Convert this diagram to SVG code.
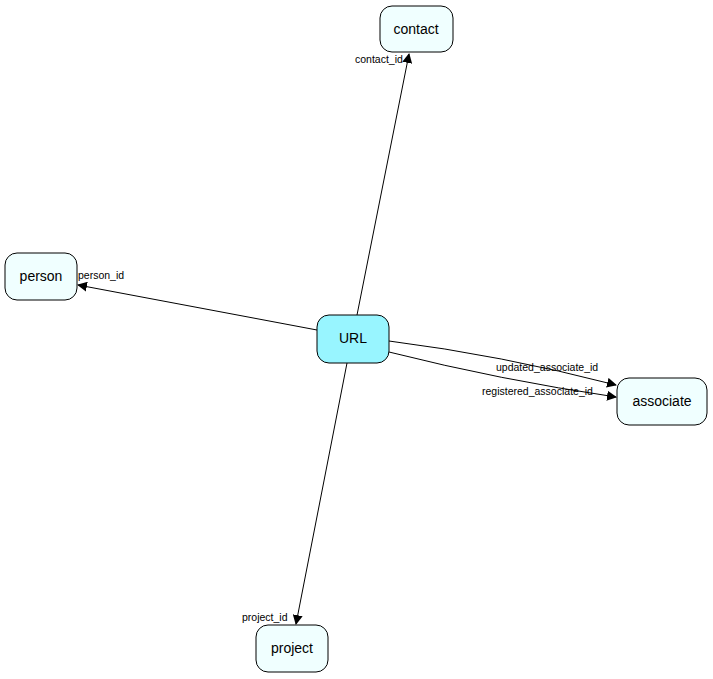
<svg xmlns="http://www.w3.org/2000/svg" width="713" height="679" viewBox="0 0 713 679">
<style>
.n rect{fill:#f0ffff;stroke:#000;stroke-width:1}
.n text{font-family:"Liberation Sans",Arial,sans-serif;font-size:14px;text-anchor:middle}
.c path{fill:none;stroke:#000;stroke-width:1}
.l{font-family:"Liberation Sans",Arial,sans-serif;font-size:10.5px}
</style>
<defs><marker id="a" markerWidth="10" markerHeight="10" refX="9" refY="5" orient="auto" markerUnits="userSpaceOnUse"><path d="M0,0 L10,5 L0,10 z" fill="#000"/></marker></defs>
<rect width="713" height="679" fill="#fff"/>
<g class="c">
<path d="M357,315 L409,54" marker-end="url(#a)"/>
<path d="M317,330 L78,285" marker-end="url(#a)"/>
<path d="M347,363 L296,624" marker-end="url(#a)"/>
<path d="M389,341 Q500,355 616,385" marker-end="url(#a)"/>
<path d="M389,352 Q500,380 616,397" marker-end="url(#a)"/>
<text class="l" x="355" y="63">contact_id</text>
<text class="l" x="78" y="279">person_id</text>
<text class="l" x="242" y="621">project_id</text>
<text class="l" x="496" y="371">updated_associate_id</text>
<text class="l" x="482" y="395">registered_associate_id</text>
</g>
<g id="URL" class="n"><rect x="317" y="315" width="72" height="48" rx="12" style="fill:#98f5ff"/><text x="353" y="343">URL</text></g>
<g id="contact" class="n"><rect x="380" y="6" width="73" height="46" rx="12"/><text x="416" y="34">contact</text></g>
<g id="person" class="n"><rect x="5" y="253" width="72" height="47" rx="12"/><text x="41" y="281">person</text></g>
<g id="associate" class="n"><rect x="617" y="378" width="90" height="47" rx="12"/><text x="662" y="406">associate</text></g>
<g id="project" class="n"><rect x="256" y="625" width="72" height="47" rx="12"/><text x="292" y="653">project</text></g>
</svg>
